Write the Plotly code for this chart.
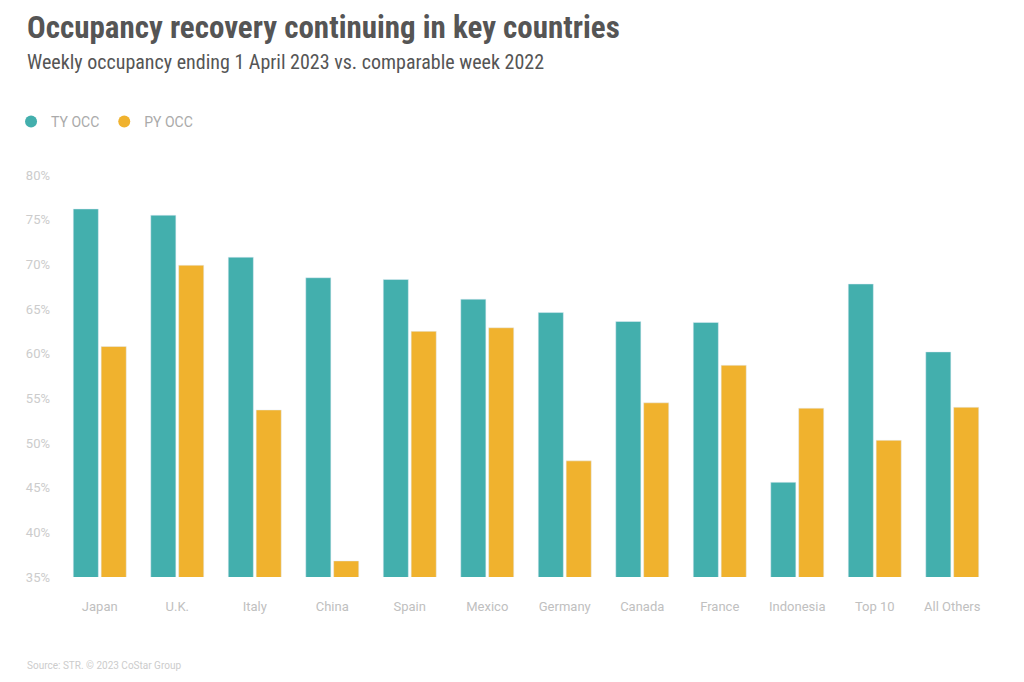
import plotly.graph_objects as go

categories = ["Japan", "U.K.", "Italy", "China", "Spain", "Mexico", "Germany",
              "Canada", "France", "Indonesia", "Top 10", "All Others"]
ty_occ = [76.2, 75.5, 70.8, 68.5, 68.3, 66.1, 64.6, 63.6, 63.5, 45.6, 67.8, 60.2]
py_occ = [60.8, 69.9, 53.7, 36.8, 62.5, 62.9, 48.0, 54.5, 58.7, 53.9, 50.3, 54.0]
y_ticks = [35, 40, 45, 50, 55, 60, 65, 70, 75, 80]
y_tick_labels = [f"{t}%" for t in y_ticks]

TEAL = "#43AFAD"
GOLD = "#F0B22E"
TITLE_FONT = "Liberation Sans Narrow, Roboto Condensed, Roboto, sans-serif"
AXIS_FONT = "Roboto, sans-serif"

fig = go.Figure()
fig.add_trace(go.Bar(name="TY OCC", x=categories, y=ty_occ, marker_color=TEAL, showlegend=False))
fig.add_trace(go.Bar(name="PY OCC", x=categories, y=py_occ, marker_color=GOLD, showlegend=False))
# legend entries with round markers
fig.add_trace(go.Scatter(name="TY OCC", x=[None], y=[None], mode="markers",
                         marker=dict(color=TEAL, size=10, symbol="circle")))
fig.add_trace(go.Scatter(name="PY OCC", x=[None], y=[None], mode="markers",
                         marker=dict(color=GOLD, size=10, symbol="circle")))

fig.update_layout(
    width=1016, height=674,
    margin=dict(l=53, r=33, t=167, b=105, autoexpand=False),
    paper_bgcolor="white", plot_bgcolor="white",
    barmode="group", bargap=0.28, bargroupgap=0.1,
    font=dict(family=AXIS_FONT, color="#bbbbbb", size=13),
    showlegend=True,
    legend=dict(orientation="h", xref="container", yref="container",
                x=0.003, xanchor="left", y=0.831, yanchor="middle",
                font=dict(family=AXIS_FONT, size=14, color="#aaaaaa"), itemsizing="constant",
                traceorder="normal", itemwidth=30, tracegroupgap=0),
    xaxis=dict(showgrid=False, showline=False, ticks="", ticklabelstandoff=20,
               tickfont=dict(family=AXIS_FONT, size=13, color="#c0c0c0")),
    yaxis=dict(range=[35, 80], tickvals=y_ticks, ticktext=y_tick_labels, showgrid=False,
               zeroline=False, showline=False, ticks="", ticklabelstandoff=10,
               tickfont=dict(family=AXIS_FONT, size=13, color="#cccccc")),
    annotations=[
        dict(text="<b>Occupancy recovery continuing in key countries</b>", xref="paper", yref="paper",
             x=-0.0387, y=1.366, xanchor="left", yanchor="middle", showarrow=False,
             font=dict(family=TITLE_FONT, size=31, color="#555555")),
        dict(text="Weekly occupancy ending 1 April 2023 vs. comparable week 2022", xref="paper", yref="paper",
             x=-0.0387, y=1.281, xanchor="left", yanchor="middle", showarrow=False,
             font=dict(family=TITLE_FONT, size=20, color="#555555")),
        dict(text="Source: STR. © 2023 CoStar Group", xref="paper", yref="paper",
             x=-0.0387, y=-0.219, xanchor="left", yanchor="middle", showarrow=False,
             font=dict(family=AXIS_FONT, size=10, color="#cccccc")),
    ],
)

fig.write_html("out.html")
